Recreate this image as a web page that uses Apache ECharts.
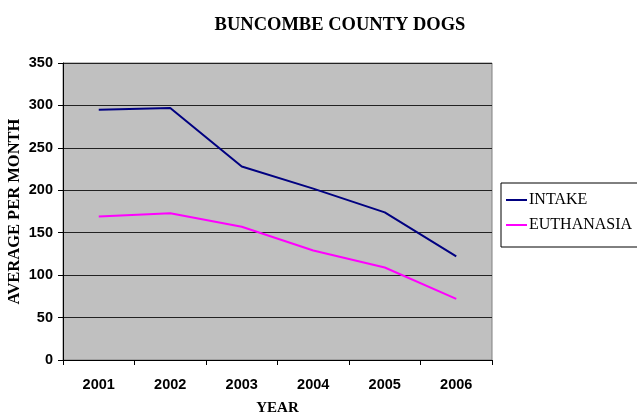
<!DOCTYPE html>
<html>
<head>
<meta charset="utf-8">
<script src="https://cdn.jsdelivr.net/npm/echarts@6/dist/echarts.min.js"></script>
<style>
  html, body { margin: 0; padding: 0; background: #fff; }
  #chart { width: 637px; height: 418px; }
</style>
</head>
<body>
<div id="chart"></div>
<script>
// 数据
const years = ['2001', '2002', '2003', '2004', '2005', '2006'];
const intake = [295, 297, 228, 202, 174, 122];
const euthanasia = [169, 173, 157, 129, 109, 72];

const serif = '"Liberation Serif", "Times New Roman", serif';
const sans = '"Liberation Sans", Arial, sans-serif';

const chart = echarts.init(document.getElementById('chart'));
const option = {
    animation: false,
    title: {
        text: 'BUNCOMBE COUNTY DOGS',
        left: 335,
        textAlign: 'center',
        top: 11,
        textStyle: { fontFamily: serif, fontWeight: 'bold', fontSize: 18.5, color: '#000' }
    },
    legend: {
        orient: 'vertical',
        left: 501,
        top: 183,
        padding: [9, 40, 14, 5],
        itemGap: 9,
        itemWidth: 21,
        itemHeight: 2,
        icon: 'rect',
        borderColor: '#000',
        borderWidth: 1,
        backgroundColor: '#fff',
        textStyle: { fontFamily: serif, fontSize: 16, color: '#000', padding: [0, 0, 0, -3] },
        data: ['INTAKE', 'EUTHANASIA']
    },
    grid: {
        left: 63,
        right: 145,
        top: 63,
        bottom: 58,
        containLabel: false,
        outerBoundsMode: 'none',
        show: true,
        backgroundColor: '#c0c0c0',
        borderColor: '#808080',
        borderWidth: 1
    },
    xAxis: {
        type: 'category',
        data: years,
        boundaryGap: true,
        name: 'YEAR',
        nameLocation: 'middle',
        nameGap: 41,
        nameMoveOverlap: false,
        nameTextStyle: { fontFamily: serif, fontWeight: 'bold', fontSize: 15, color: '#000' },
        axisLine: { lineStyle: { color: '#000', width: 1 } },
        axisTick: { show: true, length: 5, lineStyle: { color: '#000' } },
        axisLabel: { fontFamily: sans, fontWeight: 'bold', fontSize: 14.5, color: '#000', margin: 17 }
    },
    yAxis: {
        type: 'value',
        min: 0,
        max: 350,
        interval: 50,
        name: 'AVERAGE PER MONTH',
        nameLocation: 'middle',
        nameGap: 40,
        nameMoveOverlap: false,
        nameTextStyle: { fontFamily: serif, fontWeight: 'bold', fontSize: 16.5, color: '#000' },
        axisLine: { show: true, lineStyle: { color: '#000', width: 1 } },
        axisTick: { show: true, length: 5, lineStyle: { color: '#000' } },
        axisLabel: { fontFamily: sans, fontWeight: 'bold', fontSize: 14.5, color: '#000', margin: 10 },
        splitLine: { lineStyle: { color: '#222', width: 1 } }
    },
    series: [
        {
            name: 'INTAKE',
            type: 'line',
            data: intake,
            symbol: 'none',
            color: '#000080',
            lineStyle: { color: '#000080', width: 2 }
        },
        {
            name: 'EUTHANASIA',
            type: 'line',
            data: euthanasia,
            symbol: 'none',
            color: '#ff00ff',
            lineStyle: { color: '#ff00ff', width: 2 }
        }
    ]
};
chart.setOption(option);
</script>
</body>
</html>
